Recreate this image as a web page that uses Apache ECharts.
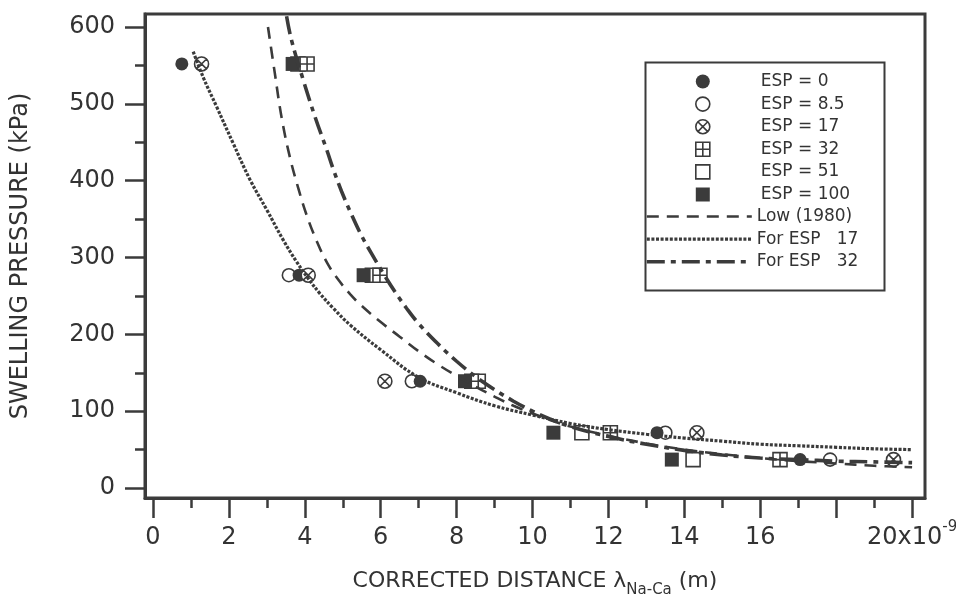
<!DOCTYPE html>
<html>
<head>
<meta charset="utf-8">
<script src="https://cdn.jsdelivr.net/npm/echarts@6/dist/echarts.min.js"></script>
<style>
  html, body { margin: 0; padding: 0; background: #fff; }
  #chart { width: 956px; height: 595px; }
</style>
</head>
<body>
<div id="chart"></div>
<script>
// Axis ticks and labels
const xMajorTicks = [0, 2, 4, 6, 8, 10, 12, 14, 16, 18, 20];
const xMinorTicks = [1, 3, 5, 7, 9, 11, 13, 15, 17, 19];
const xTickLabels = [0, 2, 4, 6, 8, 10, 12, 14, 16, 20];
const yMajorTicks = [0, 100, 200, 300, 400, 500, 600];
const yMinorTicks = [50, 150, 250, 350, 450, 550];

// Measured swelling pressures (kPa), shared by every ESP group
const swellingPressure = [552, 277, 139, 72, 37];

// Corrected distance (x10^-9 m) for each ESP group, one per pressure step
const esp0Distance   = [0.76, 3.85, 7.04, 13.28, 17.05];
const esp8_5Distance = [1.28, 3.58, 6.82, 13.50, 17.84];
const esp17Distance  = [1.28, 4.09, 6.11, 14.33, 19.51];
const esp32Distance  = [4.06, 5.98, 8.57, 12.05, 16.52];
const esp51Distance  = [3.82, 5.78, 8.40, 11.30, 14.23];
const esp100Distance = [3.68, 5.55, 8.22, 10.55, 13.67];

// Low (1980) relation
const lowDistance = [3.03, 3.21, 3.39, 3.61, 3.83, 4.05, 4.31, 4.6, 4.9, 5.2, 5.5, 6.0, 6.5, 7.0, 7.5, 8.0, 8.5, 9.0, 9.5, 10.0, 10.5, 11.0, 12.0, 13.0, 14.0, 15.0, 16.0, 17.0, 18.0, 19.0, 20.0];
const lowPressure = [600, 540, 482, 430, 390, 355, 322, 292, 270, 252, 237, 216, 197, 178, 161, 146, 132, 119, 107, 97, 88, 80, 68, 58, 50, 44, 39, 35, 32, 29, 27];

// Fitted curve for ESP 17
const fit17Distance = [1.06, 1.32, 1.68, 2.11, 2.56, 3.0, 3.43, 3.79, 4.1, 4.4, 4.75, 5.2, 6.0, 7.0, 8.0, 9.0, 10.0, 11.0, 12.0, 13.0, 14.0, 15.0, 16.0, 17.0, 18.0, 19.0, 20.0];
const fit17Pressure = [568, 535, 496, 449, 401, 362, 323, 294, 272, 253, 234, 212, 180, 144, 124, 107, 95, 84, 76, 70, 65, 61, 57, 55, 53, 51, 50];

// Fitted curve for ESP 32
const fit32Distance = [3.52, 3.65, 3.96, 4.27, 4.58, 4.75, 4.97, 5.24, 5.5, 5.76, 6.06, 6.38, 6.68, 7.0, 7.5, 8.0, 8.5, 9.0, 9.5, 10.0, 10.5, 11.0, 12.0, 13.0, 14.0, 15.0, 16.0, 17.0, 18.0, 19.0, 20.0];
const fit32Pressure = [614, 583, 531, 483, 440, 415, 386, 355, 328, 305, 280, 255, 234, 214, 188, 165, 145, 128, 113, 100, 89, 80, 67, 57, 49, 43, 39, 37, 35, 34, 33];

const INK = '#3b3b3b';
const TEXT = '#333';
const FONT = 'DejaVu Sans';

const SYM_CROSS_CIRCLE = 'path://M10,1A9,9,0,1,1,10,19A9,9,0,1,1,10,1ZM3.6,3.6L16.4,16.4M16.4,3.6L3.6,16.4';
const SYM_PLUS_SQUARE = 'path://M1,1H19V19H1ZM10,1V19M1,10H19';
const SYM_SQUARE = 'path://M1,1H19V19H1Z';

function pairs(xs, ys) {
  return xs.map((x, i) => [x, ys[i]]);
}

function markerSeries(name, xs, symbol, size, filled) {
  return {
    name: name,
    type: 'scatter',
    data: pairs(xs, swellingPressure),
    symbol: symbol,
    symbolSize: size,
    z: 2,
    itemStyle: filled
      ? { color: INK, borderWidth: 0, opacity: 1 }
      : { color: '#fff', borderColor: INK, borderWidth: 1.6, opacity: 1 },
    emphasis: { disabled: true }
  };
}

function curveSeries(name, xs, ys, dash, width) {
  return {
    name: name,
    type: 'line',
    data: pairs(xs, ys),
    showSymbol: false,
    symbol: 'none',
    symbolSize: 0,
    smooth: 0.4,
    z: 3,
    itemStyle: { color: INK },
    lineStyle: { color: INK, width: width, type: dash, cap: 'butt' },
    emphasis: { disabled: true }
  };
}

const markerNames = ['ESP = 0', 'ESP = 8.5', 'ESP = 17', 'ESP = 32', 'ESP = 51', 'ESP = 100'];
const curveNames = ['Low (1980)', 'For ESP   17', 'For ESP   32'];

const series = [
  markerSeries(markerNames[1], esp8_5Distance, 'circle', 13, false),
  markerSeries(markerNames[0], esp0Distance, 'circle', 13, true),
  markerSeries(markerNames[2], esp17Distance, SYM_CROSS_CIRCLE, 14, false),
  markerSeries(markerNames[4], esp51Distance, SYM_SQUARE, 14, false),
  markerSeries(markerNames[3], esp32Distance, SYM_PLUS_SQUARE, 14, false),
  markerSeries(markerNames[5], esp100Distance, SYM_SQUARE, 14, true),
  curveSeries(curveNames[0], lowDistance, lowPressure, [12, 8], 2.6),
  curveSeries(curveNames[1], fit17Distance, fit17Pressure, [3, 1.6], 3.2),
  curveSeries(curveNames[2], fit32Distance, fit32Pressure, [18, 6, 5, 6], 3.6)
];

const axisLineStyle = { color: INK, width: 3 };

const option = {
  animation: false,
  backgroundColor: '#fff',
  textStyle: { fontFamily: FONT, color: TEXT },
  grid: {
    left: 145, right: 31, top: 14, bottom: 97,
    outerBoundsMode: 'none',
    containLabel: false,
    show: true, borderColor: INK, borderWidth: 3, backgroundColor: 'transparent'
  },
  xAxis: [
    {
      type: 'value', min: -0.21, max: 20.34, position: 'bottom',
      axisLine: { show: true, onZero: false, lineStyle: axisLineStyle },
      axisTick: { show: true, length: 20, customValues: xMajorTicks, lineStyle: { color: INK, width: 2.5 } },
      axisLabel: {
        show: true, customValues: xTickLabels, margin: 22,
        fontFamily: FONT, fontSize: 24, color: TEXT, lineHeight: 36,
        formatter: function (v) {
          return v === 20 ? '{n|20x10}{sup|-9}' : String(v);
        },
        rich: {
          n: { fontFamily: FONT, fontSize: 24, color: TEXT, lineHeight: 36 },
          sup: { fontFamily: FONT, fontSize: 15, color: TEXT, lineHeight: 14, padding: [0, 0, 22, 0] }
        }
      },
      splitLine: { show: false },
      name: 'CORRECTED DISTANCE λ{sub|Na-Ca} (m)',
      nameLocation: 'middle',
      nameGap: 60,
      nameTextStyle: {
        fontFamily: FONT, fontSize: 22, color: TEXT, lineHeight: 40,
        rich: {
          sub: { fontFamily: FONT, fontSize: 15, color: TEXT, lineHeight: 14, padding: [18, 0, 0, 0] }
        }
      }
    },
    {
      type: 'value', min: -0.21, max: 20.34, position: 'bottom',
      axisLine: { show: false, onZero: false },
      axisTick: { show: true, length: 10, customValues: xMinorTicks, lineStyle: { color: INK, width: 2.5 } },
      axisLabel: { show: false },
      splitLine: { show: false }
    }
  ],
  yAxis: [
    {
      type: 'value', min: -13, max: 617, position: 'left',
      axisLine: { show: true, onZero: false, lineStyle: axisLineStyle },
      axisTick: { show: true, length: 20, customValues: yMajorTicks, lineStyle: { color: INK, width: 2.5 } },
      axisLabel: { show: true, customValues: yMajorTicks, margin: 30, fontFamily: FONT, fontSize: 24, color: TEXT },
      splitLine: { show: false },
      name: 'SWELLING PRESSURE (kPa)',
      nameLocation: 'middle',
      nameGap: 112,
      nameRotate: 90,
      nameTextStyle: { fontFamily: FONT, fontSize: 24, color: TEXT }
    },
    {
      type: 'value', min: -13, max: 617, position: 'left',
      axisLine: { show: false, onZero: false },
      axisTick: { show: true, length: 10, customValues: yMinorTicks, lineStyle: { color: INK, width: 2.5 } },
      axisLabel: { show: false },
      splitLine: { show: false }
    }
  ],
  legend: [
    {
      data: markerNames,
      orient: 'vertical', left: 695, top: 73, padding: 0,
      itemWidth: 14, itemHeight: 14, itemGap: 5.6,
      selectedMode: false,
      itemStyle: { borderWidth: 'inherit' },
      textStyle: { fontFamily: FONT, fontSize: 17, color: TEXT, padding: [0, 0, 0, 46] }
    },
    {
      data: curveNames,
      orient: 'vertical', left: 645, top: 208, padding: 0,
      itemWidth: 105, itemHeight: 14, itemGap: 5.6,
      selectedMode: false,
      itemStyle: { opacity: 0 },
      lineStyle: { width: 'inherit' },
      textStyle: { fontFamily: FONT, fontSize: 17, color: TEXT }
    }
  ],
  graphic: [
    {
      type: 'rect', left: 643, top: 60, silent: true, z: 10,
      shape: { width: 239, height: 228 },
      style: { fill: 'none', stroke: INK, lineWidth: 2 }
    }
  ],
  series: series
};

const chart = echarts.init(document.getElementById('chart'), null, { renderer: 'canvas' });
chart.setOption(option);
</script>
</body>
</html>
